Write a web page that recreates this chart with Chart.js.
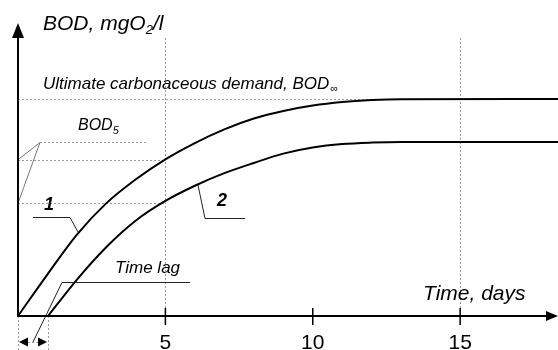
<!DOCTYPE html>
<html><head><meta charset="utf-8">
<script src="https://cdn.jsdelivr.net/npm/chart.js@4/dist/chart.umd.min.js"></script>
<style>html,body{margin:0;padding:0;background:#fff}#wrap{width:558px;height:350px;position:relative}</style>
</head><body><div id="wrap"><canvas id="c"></canvas></div>
<script>
// ---- data ----
const time1 = [0, 1, 2, 3, 4, 5, 6, 7, 8, 9, 10, 11, 12, 13, 18.32];
const bod1  = [0, 1.92, 3.75, 5.2, 6.3, 7.22, 7.97, 8.6, 9.1, 9.45, 9.7, 9.86, 9.95, 9.99, 10];
const time2 = [1.02, 2, 3, 4, 5, 6, 7, 8, 9, 10, 11, 12, 13, 18.32];
const bod2  = [0, 1.68, 3.18, 4.4, 5.3, 6.0, 6.58, 7.05, 7.48, 7.76, 7.92, 7.99, 8.02, 8.02];
const xTicks = [5, 10, 15];
const xTickLabels = ['5', '10', '15'];
const bodUltimate = 10;
const bod5Day = 5;
const bod5Values = [7.2, 5.2];
const lagDays = 1.02;
const xRange = [0, 18.32];
const yRange = [0, 13.5];

const FONT = '"Liberation Sans", Arial, sans-serif';

const drawPlugin = {
  id: 'bodDrawing',
  beforeDatasetsDraw(chart) {
    const {ctx, chartArea: a, scales: {x, y}} = chart;
    const X = v => x.getPixelForValue(v), Y = v => y.getPixelForValue(v);
    ctx.save();
    ctx.strokeStyle = '#9a9a9a';
    ctx.lineWidth = 1;
    ctx.setLineDash([2, 2]);
    const seg = (x1, y1, x2, y2) => { ctx.beginPath(); ctx.moveTo(x1, y1); ctx.lineTo(x2, y2); ctx.stroke(); };
    [bod5Day, 15].forEach(t => seg(Math.round(X(t)) + 0.5, 38, Math.round(X(t)) + 0.5, Y(0)));
    seg(X(0), Math.round(Y(bodUltimate)) + 0.5, a.right, Math.round(Y(bodUltimate)) + 0.5);
    bod5Values.forEach(v => seg(X(0), Math.round(Y(v)) + 0.5, X(bod5Day), Math.round(Y(v)) + 0.5));
    seg(40, 142.5, 146, 142.5);
    seg(Math.round(X(0)) + 0.5, Y(0), Math.round(X(0)) + 0.5, 350);
    seg(Math.round(X(lagDays)) + 0.5, Y(0), Math.round(X(lagDays)) + 0.5, 350);
    seg(X(0) + 10, 342.5, X(lagDays) - 10, 342.5);
    ctx.restore();
  },
  afterDatasetsDraw(chart) {
    const {ctx, chartArea: a, scales: {x, y}} = chart;
    const X = v => x.getPixelForValue(v), Y = v => y.getPixelForValue(v);
    const x0 = X(0), y0 = Y(0);
    ctx.save();
    ctx.lineWidth = 1;
    const poly = pts => { ctx.beginPath(); ctx.moveTo(pts[0][0], pts[0][1]); for (let i = 1; i < pts.length; i++) ctx.lineTo(pts[i][0], pts[i][1]); ctx.stroke(); };
    ctx.strokeStyle = '#777';
    poly([[x0, Y(bod5Values[0])], [40, 142.5]]);
    poly([[x0, Y(bod5Values[1])], [40, 142.5]]);
    ctx.strokeStyle = '#222';
    poly([[33, 217.5], [70, 217.5], [78, 232]]);
    poly([[198, 185], [205, 218.5], [245, 218.5]]);
    poly([[190, 282.5], [62, 282.5], [33, 342]]);
    ctx.fillStyle = '#000';
    const xl = X(lagDays);
    ctx.beginPath(); ctx.moveTo(x0 + 1, 342); ctx.lineTo(x0 + 10, 337.5); ctx.lineTo(x0 + 10, 346.5); ctx.closePath(); ctx.fill();
    ctx.beginPath(); ctx.moveTo(xl - 1, 342); ctx.lineTo(xl - 10, 337.5); ctx.lineTo(xl - 10, 346.5); ctx.closePath(); ctx.fill();

    ctx.strokeStyle = '#000';
    ctx.lineWidth = 2;
    poly([[x0, y0 + 1], [x0, 34]]);
    poly([[x0 - 1, y0], [550, y0]]);
    ctx.beginPath(); ctx.moveTo(x0, 23); ctx.lineTo(x0 - 6, 38); ctx.lineTo(x0 + 6, 38); ctx.closePath(); ctx.fill();
    ctx.beginPath(); ctx.moveTo(a.right, y0); ctx.lineTo(a.right - 12, y0 - 5); ctx.lineTo(a.right - 12, y0 + 5); ctx.closePath(); ctx.fill();
    ctx.lineWidth = 1.5;
    xTicks.forEach(t => poly([[X(t), y0 - 8], [X(t), y0 + 9]]));
    ctx.fillStyle = '#000';
    ctx.textAlign = 'center';
    ctx.textBaseline = 'alphabetic';
    ctx.font = '21px ' + FONT;
    xTicks.forEach((t, i) => ctx.fillText(xTickLabels[i], X(t), 349));

    ctx.textAlign = 'left';
    const txt = (s, px, py, font) => { ctx.font = font; ctx.fillText(s, px, py); return ctx.measureText(s).width; };
    let w = txt('BOD, mgO', 43, 30, 'italic 21px ' + FONT);
    let w2 = txt('2', 43 + w, 34, 'italic 13px ' + FONT);
    txt('/l', 43 + w + w2, 30, 'italic 21px ' + FONT);

    w = txt('Ultimate carbonaceous demand, BOD', 43, 89, 'italic 17px ' + FONT);
    txt('\u221E', 43 + w + 1, 92, 'italic 11px ' + FONT);

    w = txt('BOD', 78, 130, 'italic 16px ' + FONT);
    txt('5', 78 + w, 134, 'italic 11px ' + FONT);

    txt('1', 44, 210, 'italic bold 18px ' + FONT);
    txt('2', 217, 206, 'italic bold 18px ' + FONT);
    txt('Time lag', 115, 273, 'italic 17px ' + FONT);
    txt('Time, days', 423, 300, 'italic 21px ' + FONT);
    ctx.restore();
  }
};

new Chart(document.getElementById('c'), {
  type: 'line',
  data: {
    datasets: [
      { label: '1', data: time1.map((t, i) => ({x: t, y: bod1[i]})), borderColor: '#000', borderWidth: 2, pointRadius: 0, cubicInterpolationMode: 'monotone', fill: false, clip: false },
      { label: '2', data: time2.map((t, i) => ({x: t, y: bod2[i]})), borderColor: '#000', borderWidth: 2, pointRadius: 0, cubicInterpolationMode: 'monotone', fill: false, clip: false }
    ]
  },
  options: {
    responsive: true,
    maintainAspectRatio: false,
    animation: false,
    layout: { padding: { left: 18, right: 0, top: 23, bottom: 34 } },
    scales: {
      x: { type: 'linear', min: xRange[0], max: xRange[1], display: false },
      y: { type: 'linear', min: yRange[0], max: yRange[1], display: false }
    },
    plugins: { legend: { display: false }, tooltip: { enabled: false } }
  },
  plugins: [drawPlugin]
});
</script>
</body></html>
